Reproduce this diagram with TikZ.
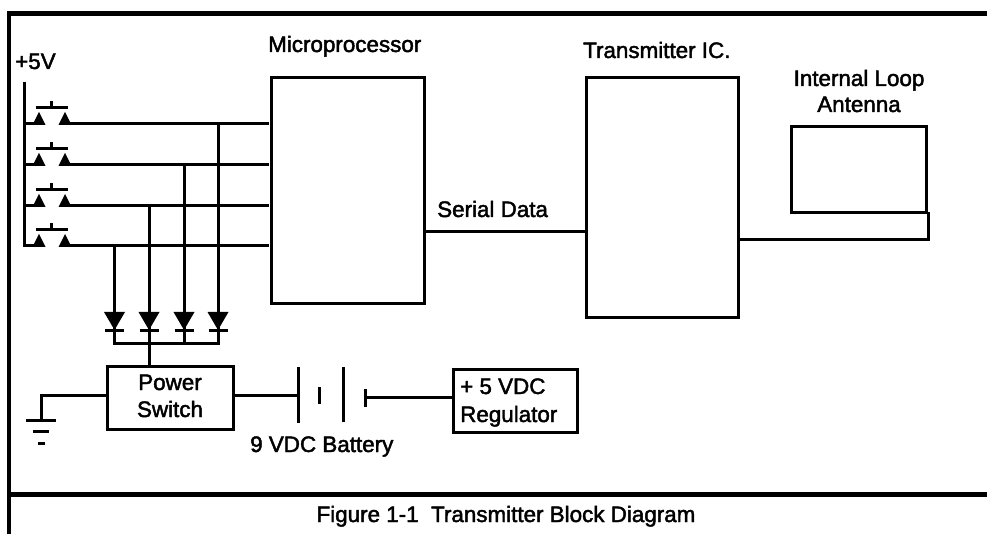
\documentclass[tikz,border=0pt]{standalone}
\usepackage{fontspec}
\setmainfont{Liberation Sans}[FakeBold=2]
\tikzset{
  wire/.style={draw=black,line width=3pt,line cap=rect},
  frameline/.style={draw=black,line width=4.8pt},
  block/.style={draw=black,line width=3pt,fill=none,inner sep=0pt,anchor=north west},
  label/.style={inner sep=0pt,font=\fontsize{22.4}{26}\selectfont,text=black},
  plate/.style={draw=black,line width=3pt},
  tri/.style={fill=black,draw=none},
}
\newcommand{\pushsw}[2]{%
  \coordinate (#1) at (0,#2);
  \fill[tri] (32.5,#2+1.5) -- (39,#2-11.5) -- (45.5,#2+1.5) -- cycle;
  \fill[tri] (58.5,#2+1.5) -- (65,#2-11.5) -- (71.5,#2+1.5) -- cycle;
  \draw[line width=3pt] (35.5,#2-16) -- (68,#2-16);
  \draw[line width=3pt] (51,#2-22) -- (51,#2-16);
}
\newcommand{\diode}[2]{%
  \fill[tri] (#1-10.5,312) -- (#1+10.5,312) -- (#1,330) -- cycle;
  \draw[line width=3pt] (#1-9.5,330.5) -- (#1+9.5,330.5);
}
\begin{document}
\begin{tikzpicture}[x=1pt,y=-1pt]
\useasboundingbox (0,0) rectangle (987,534);
% frame
\coordinate (ftl) at (9,13.5);
\coordinate (ftr) at (987,13.5);
\coordinate (fbl) at (9,534);
\coordinate (fml) at (9,494.5);
\coordinate (fmr) at (987,494.5);
\draw[frameline] (ftr) -- (ftl) -- (fbl);
\draw[frameline] (fml) -- (fmr);
% blocks
\node[block,minimum width=153pt,minimum height=226pt] (mp) at (269.5,76) {};
\node[block,minimum width=152pt,minimum height=240pt] (tx) at (585,76) {};
\node[block,minimum width=135pt,minimum height=86pt] (ant) at (790,125) {};
\node[block,minimum width=126pt,minimum height=63pt] (ps) at (105.5,365) {};
\node[block,minimum width=124pt,minimum height=63pt] (reg) at (452,368) {};
% labels
\node[label,anchor=base west] (lmp) at (268,52) {Microprocessor};
\node[label,anchor=base west] (ltx) at (583,58) {Transmitter IC.};
\node[label,anchor=base] (lant1) at (859,86) {Internal Loop};
\node[label,anchor=base] (lant2) at (859,112) {Antenna};
\node[label,anchor=base west] (l5v) at (15,69) {+5V};
\node[label,anchor=base west] (lsd) at (437,217) {Serial Data};
\node[label,anchor=base] (lps1) at (170,390) {Power};
\node[label,anchor=base] (lps2) at (170,417) {Switch};
\node[label,anchor=base west] (lr1) at (460,394) {+ 5 VDC};
\node[label,anchor=base west] (lr2) at (460,422) {Regulator};
\node[label,anchor=base west] (lbat) at (250,452) {9 VDC Battery};
\node[label,anchor=base] (lfig) at (506,522) {Figure 1-1\ \ Transmitter Block Diagram};
% switches
\pushsw{r1}{123.5}
\pushsw{r2}{164.5}
\pushsw{r3}{205.5}
\pushsw{r4}{245.5}
\coordinate (railtop) at (24,84);
\coordinate (railbot) at (24,245.5);
\draw[wire] (railtop) -- (railbot) -- (34,245.5);
\draw[wire] (24,123.5) -- (34,123.5);
\draw[wire] (24,164.5) -- (34,164.5);
\draw[wire] (24,205.5) -- (34,205.5);
\draw[wire] (70,123.5) -- (267,123.5);
\draw[wire] (70,164.5) -- (267,164.5);
\draw[wire] (70,205.5) -- (267,205.5);
\draw[wire] (70,245.5) -- (267,245.5);
% diode columns
\draw[wire] (218,123.5) -- (218,343);
\draw[wire] (184,164.5) -- (184,343);
\draw[wire] (149,205.5) -- (149,343);
\draw[wire] (114.5,245.5) -- (114.5,343);
\diode{114.5}{a}
\diode{149}{b}
\diode{184}{c}
\diode{218}{d}
\draw[wire] (114.5,343) -- (218,343);
\draw[wire] (149,343) -- (149,365);
% ground
\coordinate (gnd) at (41,420);
\coordinate (gc) at (41,395);
\draw[wire] (ps.west |- gc) -- (gc) -- (gnd);
\draw[plate] (26,420) -- (56,420);
\draw[plate] (33,431) -- (49,431);
\draw[line width=3pt] (38,443.5) -- (45,443.5);
% battery
\coordinate (b1) at (298,395);
\coordinate (b4) at (365,397);
\draw[wire] (ps.east |- b1) -- (b1);
\draw[plate] (298,367) -- (298,423);
\draw[line width=3pt] (319.5,387) -- (319.5,404);
\draw[plate] (343,367) -- (343,422);
\draw[line width=3pt] (365,389) -- (365,407);
\draw[wire] (b4) -- (reg.west |- b4);
% serial data and antenna
\draw[wire] (mp.east |- 0,232) -- (tx.west |- 0,232);
\coordinate (ac) at (ant.south east |- 0,240);
\draw[wire] (tx.east |- ac) -- (ac) -- (ant.south east);
\end{tikzpicture}
\end{document}
